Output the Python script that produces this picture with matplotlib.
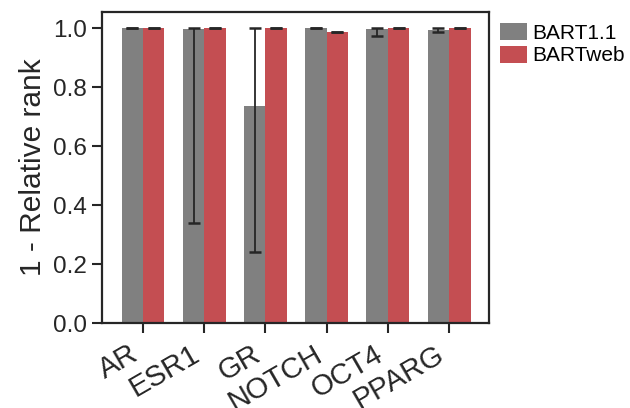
import numpy as np
import matplotlib.pyplot as plt

plt.rcParams['font.family'] = ['Liberation Sans', 'DejaVu Sans']

factors = ['AR', 'ESR1', 'GR', 'NOTCH', 'OCT4', 'PPARG']
bart11 = [1.0, 0.997, 0.735, 1.0, 0.997, 0.993]
bart11_lo = [1.0, 0.34, 0.24, 1.0, 0.973, 0.988]
bart11_hi = [1.0, 1.0, 1.0, 1.0, 1.0, 1.0]
bartweb = [1.0, 1.0, 1.0, 0.988, 1.0, 1.0]

x = np.arange(len(factors))
w = 0.35

fig = plt.figure(figsize=(6.3, 4.08), dpi=100)
ax = fig.add_axes([0.162, 0.208, 0.614, 0.763])

gray = np.array(bart11)
yerr = np.vstack([gray - np.array(bart11_lo), np.array(bart11_hi) - gray])
ax.bar(x - w / 2, bart11, w, color='#808080', label='BART1.1')
ax.bar(x + w / 2, bartweb, w, color='#c44e52', label='BARTweb')
ax.errorbar(x - w / 2, bart11, yerr=yerr, fmt='none', ecolor='#262626',
            elinewidth=1.3, capsize=4.5, capthick=1.8)
ax.errorbar(x + w / 2, bartweb, yerr=np.zeros((2, len(x))), fmt='none',
            ecolor='#262626', elinewidth=1.3, capsize=4.5, capthick=1.8)

ax.set_xlim(-0.67, 5.65)
ax.set_ylim(0, 1.055)
ax.set_yticks(np.arange(0, 1.01, 0.2))
ax.set_xticks(x)
ax.set_xticklabels(factors, rotation=30, ha='right')
ax.tick_params(axis='both', length=7, width=1.5,
               color='#262626', labelcolor='#262626', pad=4)
ax.tick_params(axis='y', labelsize=17.5)
ax.tick_params(axis='x', labelsize=21, pad=5)
ax.set_ylabel('1 - Relative rank', fontsize=21.5, color='#262626')
for s in ax.spines.values():
    s.set_linewidth(1.6)
    s.set_color('#262626')

ax.legend(loc='upper left', bbox_to_anchor=(1.0, 1.0), frameon=False,
          fontsize=15, handlelength=1.3, handleheight=0.85, handletextpad=0.25,
          labelspacing=0.15, borderaxespad=0.15)

fig.savefig('out.png', dpi=100)
